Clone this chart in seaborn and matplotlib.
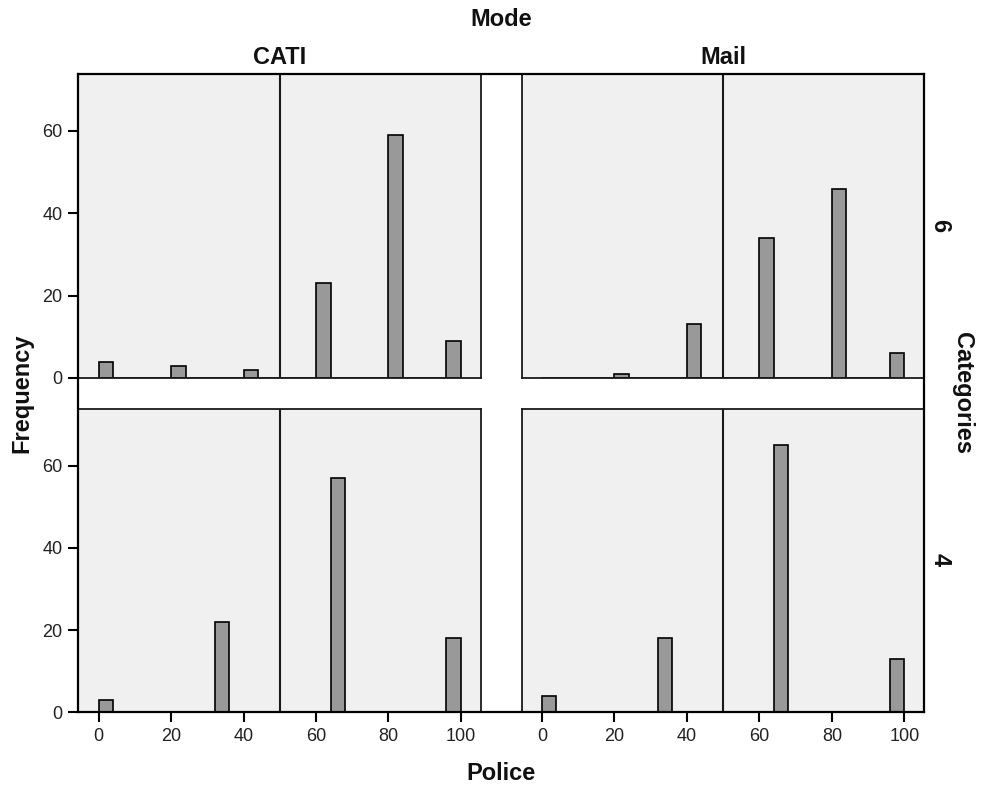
import numpy as np
import pandas as pd
import matplotlib
matplotlib.use("Agg")
import matplotlib.pyplot as plt
import seaborn as sns

sns.set_theme(style="white")
plt.rcParams['font.family'] = ['Liberation Sans', 'DejaVu Sans']

# ---- data ----
modes = ["CATI", "Mail"]
categories = ["6", "4"]
police_6 = [0, 20, 40, 60, 80, 100]
cati_6 = [4, 3, 2, 23, 59, 9]
mail_6 = [0, 1, 13, 34, 46, 6]
police_4 = [0, 33.33, 66.67, 100]
cati_4 = [3, 22, 57, 18]
mail_4 = [4, 18, 65, 13]

rows = []
for m, c, xs, ys in [("CATI", "6", police_6, cati_6), ("Mail", "6", police_6, mail_6),
                     ("CATI", "4", police_4, cati_4), ("Mail", "4", police_4, mail_4)]:
    for x, y in zip(xs, ys):
        rows.append({"Mode": m, "Categories": c, "Police": x, "Frequency": y})
df = pd.DataFrame(rows)

W, H = 989, 785
fig = plt.figure(figsize=(W / 100, H / 100), dpi=100)

def fx(px):
    return px / W

def fy(py):
    return 1 - py / H

col_left = [78.3, 521.7]
col_w = 402.6
row_top = [74, 409]
row_h = [304, 303.3]

panel_bg = "#F0F0F0"
edge = "#1a1a1a"

for ri, cat in enumerate(categories):
    for ci, mode in enumerate(modes):
        l = col_left[ci]
        t = row_top[ri]
        ax = fig.add_axes([fx(l), fy(t + row_h[ri]), col_w / W, row_h[ri] / H])
        ax.set_facecolor(panel_bg)
        sub = df[(df.Mode == mode) & (df.Categories == cat)]
        sns.histplot(data=sub, x="Police", weights="Frequency", binwidth=4, binrange=(0, 100),
                     ax=ax, color="#999999", edgecolor="black", linewidth=1.2, alpha=1)
        ax.axvline(50, color=edge, lw=1.5, zorder=5)
        ax.set_xlim(-5.6, 105.5)
        ax.set_ylim(0, 73.8)
        ax.set_xlabel("")
        ax.set_ylabel("")
        for s in ax.spines.values():
            s.set_color(edge)
            s.set_linewidth(1.3)
        ax.set_xticks([0, 20, 40, 60, 80, 100])
        ax.set_yticks([0, 20, 40, 60])
        ax.tick_params(axis="both", direction="out", length=7.5, width=1.5, color="black",
                       labelsize=13, labelcolor="#222222", pad=4)
        if ri == 0:
            ax.tick_params(axis="x", bottom=False, labelbottom=False)
        else:
            ax.tick_params(axis="x", bottom=True, labelbottom=True)
        if ci == 1:
            ax.tick_params(axis="y", left=False, labelleft=False)
        else:
            ax.tick_params(axis="y", left=True, labelleft=True)
        ax.grid(False)

# outer frame
frame = fig.add_axes([fx(78.3), fy(712.3), (924.3 - 78.3) / W, (712.3 - 74) / H])
frame.set_facecolor("none")
frame.set_xticks([])
frame.set_yticks([])
for s in frame.spines.values():
    s.set_color("black")
    s.set_linewidth(1.6)
frame.set_zorder(10)

bold = dict(fontweight="bold", color="#111111")
fs = 17
fig.text(fx(501), fy(20), "Mode", ha="center", va="center", fontsize=fs, **bold)
fig.text(fx(280), fy(58), "CATI", ha="center", va="center", fontsize=fs, **bold)
fig.text(fx(723), fy(58), "Mail", ha="center", va="center", fontsize=fs, **bold)
fig.text(fx(501), fy(773), "Police", ha="center", va="center", fontsize=fs, **bold)
fig.text(fx(22), fy(393), "Frequency", ha="center", va="center", rotation=90, fontsize=fs, **bold)
fig.text(fx(963), fy(393), "Categories", ha="center", va="center", rotation=-90, fontsize=fs, **bold)
fig.text(fx(940), fy(226), "6", ha="center", va="center", rotation=-90, fontsize=fs, **bold)
fig.text(fx(940), fy(560), "4", ha="center", va="center", rotation=-90, fontsize=fs, **bold)

fig.savefig("out.png", dpi=100)
